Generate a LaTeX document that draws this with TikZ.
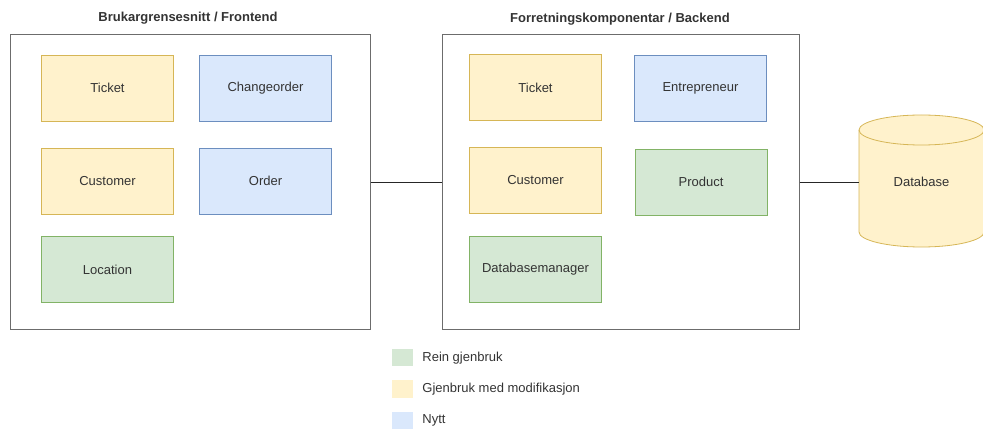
\documentclass[tikz,border=0pt]{standalone}
\usepackage{fontspec}
\setmainfont{Liberation Sans}
\usetikzlibrary{positioning,shapes.geometric}

\definecolor{reuseFill}{HTML}{D5E8D4}
\definecolor{reuseLine}{HTML}{82B366}
\definecolor{modFill}{HTML}{FFF2CC}
\definecolor{modLine}{HTML}{D6B656}
\definecolor{newFill}{HTML}{DAE8FC}
\definecolor{newLine}{HTML}{6C8EBF}
\definecolor{txt}{HTML}{333333}

\begin{document}
\begin{tikzpicture}[x=1pt, y=-1pt, font=\fontsize{13}{15}\selectfont,
    layer/.style={draw=gray!85!black, line width=1pt, rectangle, minimum width=360pt, minimum height=295pt},
    title/.style={font=\bfseries\fontsize{13}{15}\selectfont, text=txt},
    comp/.style={rectangle, line width=0.8pt, minimum width=132pt, minimum height=66pt, text=txt},
    reuse/.style={comp, draw=reuseLine, fill=reuseFill},
    modif/.style={comp, draw=modLine, fill=modFill},
    newc/.style={comp, draw=newLine, fill=newFill},
    dbbox/.style={rectangle, inner sep=0pt, minimum width=125pt, minimum height=132pt, text=txt},
    swatch/.style={rectangle, minimum width=21pt, minimum height=17pt, inner sep=0pt},
    legtext/.style={inner sep=0pt, text=txt}]
    \useasboundingbox (0,0) rectangle (983,430);

    % Layers
    \node (frontTitle) [title] at (188,18) {Brukargrensesnitt / Frontend};
    \node (frontend) [layer] at (190,182) {};
    \node (backTitle) [title] at (620,19) {Forretningskomponentar / Backend};
    \node (backend) [layer, minimum width=357pt] at (620.5,182) {};

    % Frontend components
    \node (ticketF) [modif] at (107.5,88) {Ticket};
    \node (changeorderF) [newc] at (265.5,88) {Changeorder};
    \node (customerF) [modif] at (107.5,181) {Customer};
    \node (orderF) [newc] at (265.5,181) {Order};
    \node (locationF) [reuse] at (107.5,269.5) {Location};

    % Backend components
    \node (ticketB) [modif] at (535.5,87.5) {Ticket};
    \node (entrepreneurB) [newc] at (700.5,88) {Entrepreneur};
    \node (customerB) [modif] at (535.5,180) {Customer};
    \node (productB) [reuse] at (701,182) {Product};
    \node (dbmanagerB) [reuse] at (535.5,269.5) {Databasemanager};

    % Database (cylinder drawn round the node)
    \filldraw[draw=modLine, fill=modFill, line width=0.8pt]
        (859,130) -- (859,232) arc[start angle=180, end angle=360, x radius=62.5pt, y radius=15pt]
        -- (984,130) arc[start angle=0, end angle=180, x radius=62.5pt, y radius=15pt] -- cycle;
    \draw[draw=modLine, line width=0.8pt]
        (859,130) arc[start angle=180, end angle=360, x radius=62.5pt, y radius=15pt];
    \node (database) [dbbox] at (921.5,182) {Database};

    % Legend
    \node (swReuse) [swatch, fill=reuseFill] at (402.5,358) {};
    \node (swModif) [swatch, fill=modFill] at (402.5,389) {};
    \node (swNew) [swatch, fill=newFill] at (402.5,420) {};
    \node (legReuse) [legtext, right=9pt of swReuse] {Rein gjenbruk};
    \node (legModif) [legtext, right=9pt of swModif] {Gjenbruk med modifikasjon};
    \node (legNew) [legtext, right=9pt of swNew] {Nytt};

    % Connections
    \draw[gray!30!black] (frontend.east) -- (backend.west);
    \draw[gray!30!black] (backend.east) -- (database.west);
\end{tikzpicture}
\end{document}
